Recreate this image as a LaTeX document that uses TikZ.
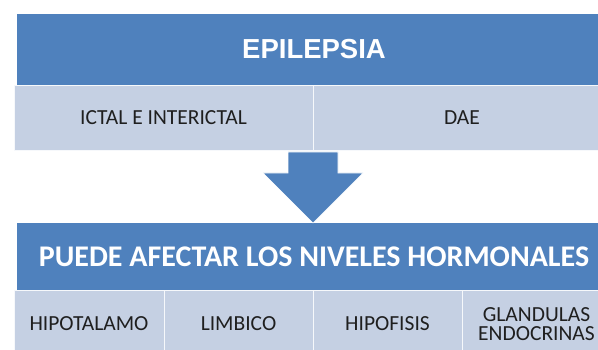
\documentclass[tikz,border=0pt]{standalone}
\usepackage{fontspec}
\setmainfont{Carlito}
\newfontfamily\arialbold{Liberation Sans}
\definecolor{hdrblue}{HTML}{4F81BD}
\definecolor{celllight}{HTML}{C5D0E3}
\begin{document}
\begin{tikzpicture}[x=1pt,y=-1pt,
  hdr/.style={fill=hdrblue, draw=none, inner sep=0pt, outer sep=0pt, anchor=north west, text=white},
  cellbox/.style={fill=celllight, draw=white!85!celllight, line width=0.8pt, inner sep=0pt, outer sep=0pt, anchor=north west, text=black!88, font=\fontsize{21.5}{20.5}\selectfont, align=center},
  bigarrow/.style={fill=hdrblue, draw=white, line width=0.6pt, line join=miter}
]
\useasboundingbox (0,0) rectangle (598,350);
\clip (0,0) rectangle (598,350);
% top header
\node[hdr, minimum width=594pt, minimum height=71pt, font=\arialbold\bfseries\fontsize{27.5}{30}\selectfont] (epi) at (17,14) {EPILEPSIA};
\node[cellbox, minimum width=299pt, minimum height=65pt] (ictal) at (14,85) {ICTAL E INTERICTAL};
\node[cellbox, minimum width=298pt, minimum height=65pt] (dae) at (313,85) {DAE};
% bottom header
\node[hdr, minimum width=594pt, minimum height=67pt, font=\bfseries\fontsize{30}{32}\selectfont] (hor) at (17,223) {\raisebox{-1.5pt}{PUEDE AFECTAR LOS NIVELES HORMONALES}};
\node[cellbox, minimum width=150pt, minimum height=68pt] (hipo) at (14,290) {HIPOTALAMO};
\node[cellbox, minimum width=149pt, minimum height=68pt] (limb) at (164,290) {LIMBICO};
\node[cellbox, minimum width=149pt, minimum height=68pt] (hipof) at (313,290) {HIPOFISIS};
\node[cellbox, minimum width=149pt, minimum height=68pt] (gland) at (462,290) {GLANDULAS\\[-1pt]ENDOCRINAS};
% block arrow between the two groups
\path (ictal.south east) ++(0,2) coordinate (atop);
\path (hor.north) coordinate (hn);
\draw[bigarrow] (atop) ++(-25,0) -- ++(0,21) -- ++(-25,0) -- (hn -| atop) -- ++(50,-50) -- ++(-25,0) -- ++(0,-21) -- cycle;
\end{tikzpicture}
\end{document}
